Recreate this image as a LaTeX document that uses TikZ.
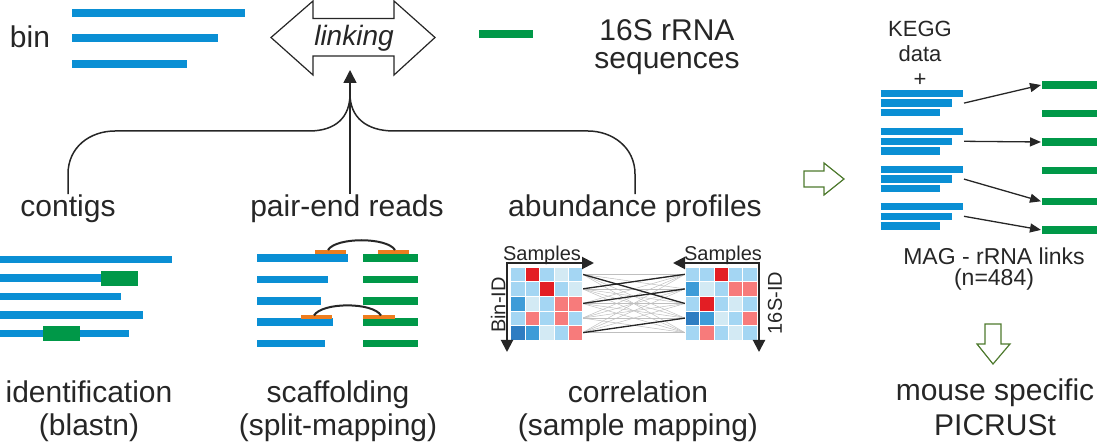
\documentclass[tikz,border=0pt]{standalone}
\usepackage{fontspec}
\setmainfont{Liberation Sans}
\usetikzlibrary{arrows.meta}

\definecolor{seqblue}{HTML}{0A8FD4}
\definecolor{seqgreen}{HTML}{009848}
\definecolor{readorange}{HTML}{EE7D1E}
\definecolor{inkgray}{HTML}{262626}
\definecolor{flowgreen}{HTML}{4E7A2E}
\definecolor{hmRed}{HTML}{E31E24}
\definecolor{hmSalmon}{HTML}{F77B7B}
\definecolor{hmLight}{HTML}{A4D6F3}
\definecolor{hmPale}{HTML}{D3EAF4}
\definecolor{hmMid}{HTML}{3E9CD8}
\definecolor{hmDark}{HTML}{2E7DC2}

\tikzset{
  lbl/.style={font=\fontsize{30}{34}\selectfont, text=inkgray, inner sep=1pt, anchor=base},
  midlbl/.style={font=\fontsize{22}{26}\selectfont, text=inkgray, inner sep=1pt, anchor=base},
  axlbl/.style={font=\fontsize{20}{24}\selectfont, text=inkgray, inner sep=0pt},
  contig/.style={seqblue, line width=7.5pt},
  rrna/.style={seqgreen, line width=7.5pt},
  hit/.style={fill=seqgreen},
  read/.style={readorange, line width=4pt},
  pairarc/.style={inkgray, line width=2pt},
  tree/.style={inkgray, line width=1.5pt},
  axis/.style={inkgray, line width=2pt, {Triangle[length=12pt,width=12pt]}-{Triangle[length=12pt,width=12pt]}},
  flow/.style={draw=flowgreen, fill=white, line width=1.2pt, line join=miter},
  link/.style={inkgray, line width=1.3pt, -{Triangle[length=11pt,width=9pt]}}
}

\begin{document}
\begin{tikzpicture}[x=1pt,y=-1pt]
\useasboundingbox (0,0) rectangle (1097,443);

% top row: bin -- linking -- 16S
\node[lbl] (bin) at (30,48) {bin};
\draw[contig] (72,13) -- (245,13);
\draw[contig] (72,38) -- (218,38);
\draw[contig] (72,64) -- (187,64);
\draw[draw=inkgray, fill=white, line width=1.2pt]
  (271,37.5) -- (313,1) -- (313,18.5) -- (394,18.5) -- (394,1) -- (435,37.5)
  -- (394,75) -- (394,56) -- (313,56) -- (313,75) -- cycle;
\node[lbl, font=\fontsize{28}{32}\selectfont\itshape] (linking) at (354,46) {linking};
\draw[rrna] (479,34) -- (533,34);
\node[lbl] (rrna1) at (667,41) {16S rRNA};
\node[lbl] (rrna2) at (667,69) {sequences};

% evidence labels
\node[lbl] (ct) at (68,217) {contigs};
\node[lbl] (pe) at (347,217) {pair-end reads};
\node[lbl] (ab) at (635,217) {abundance profiles};

% tree into the linking arrow
\coordinate (apex) at (350,70);
\coordinate (hub) at (350,94);
\draw[tree, -{Triangle[length=13pt,width=13pt]}] (apex |- pe.north) -- (apex);
\draw[tree] (ct.north) -- ++(0,-20) .. controls +(0,-27) and (90,131) .. (115,131)
  -- (309,131) .. controls (336,131) and (350,117) .. (hub);
\draw[tree] (ab.north) -- ++(0,-20) .. controls +(0,-27) and (612,131) .. (588,131)
  -- (394,131) .. controls (366,131) and (350,117) .. (hub);

% identification (blastn)
\draw[contig] (0,259.5) -- (172,259.5);
\draw[contig] (0,278) -- (110,278);
\fill[hit] (101,271) rectangle (138,286);
\draw[contig] (0,296.5) -- (121,296.5);
\draw[contig] (0,315) -- (143,315);
\draw[contig] (0,333.5) -- (129,333.5);
\fill[hit] (43,326) rectangle (80,341);

% scaffolding (split-mapping)
\foreach \y/\e in {258/348,279.5/328,301/321,322/333,343.5/325} {
  \draw[contig] (257,\y) -- (\e,\y);
  \draw[rrna] (363,\y) -- (418,\y);
}
\draw[read] (315,252) -- (346,252);
\draw[read] (378,252) -- (409,252);
\draw[read] (301,317.5) -- (332,317.5);
\draw[read] (363,317.5) -- (395,317.5);
\draw[pairarc] (328,250) .. controls (336,237) and (387,237) .. (395,250);
\draw[pairarc] (314,315.5) .. controls (322,302) and (373,302) .. (381,315.5);

% correlation (sample mapping)
\foreach \i in {0,...,4}
  \foreach \j in {0,...,4}
    \draw[black!25, line width=0.5pt] (582.5,{274.3+14.6*\i}) -- (685,{274.3+14.6*\j});
\foreach \i/\j in {0/2,1/0,2/1,4/3}
  \draw[inkgray, line width=1.3pt] (582.5,{274.3+14.6*\i}) -- (685,{274.3+14.6*\j});
\foreach \row [count=\r] in {{hmLight,hmRed,hmLight,hmPale,hmLight},
    {hmLight,hmLight,hmRed,hmLight,hmPale},{hmMid,hmPale,hmLight,hmSalmon,hmSalmon},
    {hmLight,hmSalmon,hmLight,hmSalmon,hmLight},{hmDark,hmMid,hmPale,hmLight,hmSalmon}}
  \foreach \c [count=\k] in \row
    \filldraw[fill=\c, draw=white, line width=0.3pt] ({510.5+14.4*(\k-1)},{267+14.6*(\r-1)}) rectangle ++(14.4,14.6);
\foreach \row [count=\r] in {{hmLight,hmLight,hmRed,hmLight,hmLight},
    {hmMid,hmPale,hmLight,hmSalmon,hmSalmon},{hmLight,hmRed,hmLight,hmPale,hmLight},
    {hmDark,hmMid,hmPale,hmLight,hmSalmon},{hmLight,hmSalmon,hmLight,hmPale,hmLight}}
  \foreach \c [count=\k] in \row
    \filldraw[fill=\c, draw=white, line width=0.3pt] ({685+14.4*(\k-1)},{267+14.6*(\r-1)}) rectangle ++(14.4,14.6);
\draw[axis] (594,263) -- (507,263) -- (507,352);
\draw[axis] (673,263) -- (759,263) -- (759,352);
\node[axlbl, anchor=base] (smpA) at (542,261) {Samples};
\node[axlbl, anchor=base] (smpB) at (723,261) {Samples};
\node[axlbl, rotate=90] (binid) at (498,305) {Bin-ID};
\node[axlbl, rotate=90] (ssuid) at (775,303) {16S-ID};

% method labels
\node[lbl] (id1) at (89,402) {identification};
\node[lbl] (id2) at (89,435) {(blastn)};
\node[lbl] (sc1) at (338,402) {scaffolding};
\node[lbl] (sc2) at (338,435) {(split-mapping)};
\node[lbl] (co1) at (638,402) {correlation};
\node[lbl] (co2) at (638,435) {(sample mapping)};

% MAG - rRNA links
\draw[flow] (804,171) -- (824,171) -- (824,163) -- (844,179) -- (824,195)
  -- (824,187) -- (804,187) -- cycle;
\node[midlbl] (kegg) at (920,37) {KEGG};
\node[midlbl] (kdata) at (920,62) {data};
\node[midlbl] (kplus) at (920,87) {+};
\foreach \g [count=\n] in {93.5,131.7,169.5,206.7} {
  \draw[contig] (880.6,\g) -- (963,\g);
  \draw[contig] (880.6,\g+9.6) -- (952,\g+9.6);
  \draw[contig] (880.6,\g+19.2) -- (940,\g+19.2);
  \coordinate (mag\n) at (964,\g+9.6);
}
\foreach \y [count=\n] in {85,113.4,142,170.6,201.3,229.9} {
  \draw[rrna] (1042,\y) -- (1097,\y);
  \coordinate (ssu\n) at (1041,\y);
}
\draw[link] (mag1) -- (ssu1);
\draw[link] (mag2) -- (ssu3);
\draw[link] (mag3) -- (ssu5);
\draw[link] (mag4) -- (ssu6);
\node[midlbl, font=\fontsize{23}{26}\selectfont] (maglinks) at (994,265) {MAG - rRNA links};
\node[midlbl, font=\fontsize{23}{26}\selectfont] (nlinks) at (994,286) {(n=484)};
\draw[flow] (985,324) -- (1001,324) -- (1001,344) -- (1010,344) -- (993,364)
  -- (977,344) -- (985,344) -- cycle;
\node[lbl] (ms1) at (995,400) {mouse specific};
\node[lbl] (ms2) at (995,435) {PICRUSt};
\end{tikzpicture}
\end{document}
